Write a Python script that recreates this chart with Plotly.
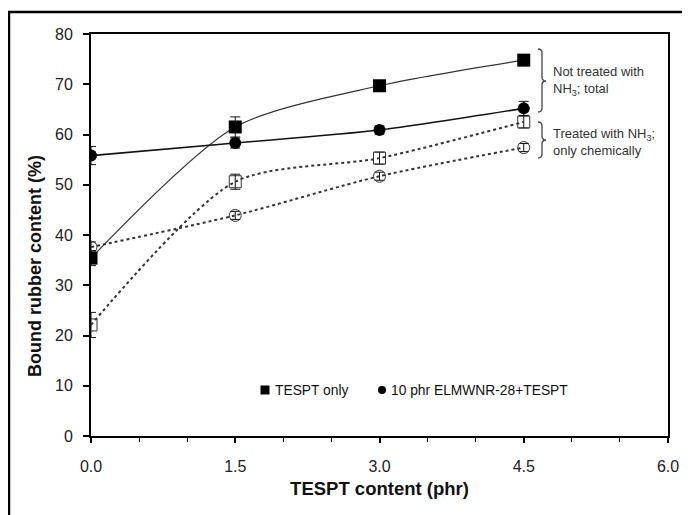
import plotly.graph_objects as go

# ---- data ----
tespt_x = [0.0, 1.5, 3.0, 4.5]
tespt_total = [35.4, 61.5, 69.7, 74.8]
tespt_total_err = [1.5, 2.0, 0.8, 0.8]
elm_total = [55.8, 58.3, 60.9, 65.2]
elm_total_err = [1.8, 1.0, 0.8, 1.4]
tespt_chem = [22.1, 50.6, 55.3, 62.5]
tespt_chem_err = [2.5, 1.5, 1.2, 1.2]
elm_chem = [37.6, 43.9, 51.7, 57.4]
elm_chem_err = [1.0, 0.8, 0.8, 0.8]

series_names = ["TESPT only", "10 phr ELMWNR-28+TESPT"]
x_ticks = [0.0, 1.5, 3.0, 4.5, 6.0]
x_tick_labels = ["0.0", "1.5", "3.0", "4.5", "6.0"]
y_ticks = [0, 10, 20, 30, 40, 50, 60, 70, 80]

FONT = "Arial, Liberation Sans, sans-serif"
SMOOTH = 0.75

fig = go.Figure()

def err(vals):
    return dict(type="data", array=vals, visible=True, color="#111", thickness=1, width=5)

# dotted (treated with NH3)
fig.add_trace(go.Scatter(x=tespt_x, y=tespt_chem, mode="lines+markers",
                         line=dict(color="#333", width=2, dash="dot", shape="spline", smoothing=SMOOTH),
                         marker=dict(symbol="square-open", size=12, color="#333", line=dict(width=1)),
                         error_y=err(tespt_chem_err), showlegend=False))
fig.add_trace(go.Scatter(x=tespt_x, y=elm_chem, mode="lines+markers",
                         line=dict(color="#333", width=2, dash="dot", shape="spline", smoothing=SMOOTH),
                         marker=dict(symbol="circle-open", size=12, color="#333", line=dict(width=1)),
                         error_y=err(elm_chem_err), showlegend=False))
# solid (total)
fig.add_trace(go.Scatter(x=tespt_x, y=tespt_total, mode="lines+markers", name=series_names[0],
                         line=dict(color="#333", width=1.2, shape="spline", smoothing=SMOOTH),
                         marker=dict(symbol="square", size=13, color="#000"),
                         error_y=err(tespt_total_err), showlegend=False))
fig.add_trace(go.Scatter(x=tespt_x, y=elm_total, mode="lines+markers", name=series_names[1],
                         line=dict(color="#111", width=1.6, shape="spline", smoothing=SMOOTH),
                         marker=dict(symbol="circle", size=12, color="#000"),
                         error_y=err(elm_total_err), showlegend=False))

# screen-pixel helpers (plot area: x 91..668, y 34..436 on screen)
def px2x(px):
    return (px - 91) / (577 / 6.0)

def py2y(py):
    return (436 - py) / (402 / 80.0)

def pxp(px):
    return (px - 91) / 577.0

def pyp(py):
    return (436 - py) / 402.0

def brace(px0, pxt, pytop, pytip, pybot):
    x0, xt = px2x(px0), px2x(pxt)
    xm = (x0 + xt) / 2
    yt, yc, yb = py2y(pytop), py2y(pytip), py2y(pybot)
    d = py2y(0) - py2y(4)
    return (f"M {x0},{yt} Q {xm},{yt} {xm},{yt-d} L {xm},{yc+d} Q {xm},{yc} {xt},{yc} "
            f"Q {xm},{yc} {xm},{yc-d} L {xm},{yb+d} Q {xm},{yb} {x0},{yb}")

shapes = [
    dict(type="path", xref="x", yref="y", path=brace(538, 546, 49, 81, 112),
         line=dict(color="#444", width=1.3)),
    dict(type="path", xref="x", yref="y", path=brace(538, 546, 122, 140, 158),
         line=dict(color="#444", width=1.3)),
    # outer frame
    dict(type="rect", xref="paper", yref="paper",
         x0=pxp(9), x1=pxp(720), y0=pyp(540), y1=pyp(12),
         line=dict(color="#000", width=2.5), layer="below"),
    # legend keys
    dict(type="rect", xref="paper", yref="paper",
         x0=pxp(260.5), x1=pxp(269.5), y0=pyp(394.5), y1=pyp(385.5),
         fillcolor="#000", line=dict(width=0)),
    dict(type="circle", xref="paper", yref="paper",
         x0=pxp(378), x1=pxp(386), y0=pyp(394), y1=pyp(386),
         fillcolor="#000", line=dict(width=0)),
]

ann_font = dict(family=FONT, size=13, color="#333")
annotations = [
    dict(x=px2x(551), y=py2y(81), xref="x", yref="y", xanchor="left", yanchor="middle", align="left",
         text="Not treated with<br>NH<sub>3</sub>; total", showarrow=False, font=ann_font),
    dict(x=px2x(551), y=py2y(142), xref="x", yref="y", xanchor="left", yanchor="middle", align="left",
         text="Treated with NH<sub>3</sub>;<br>only chemically", showarrow=False, font=ann_font),
    dict(x=pxp(273), y=pyp(390), xref="paper", yref="paper", xanchor="left", yanchor="middle",
         text=series_names[0], showarrow=False, font=dict(family=FONT, size=13.8, color="#111")),
    dict(x=pxp(389), y=pyp(390), xref="paper", yref="paper", xanchor="left", yanchor="middle",
         text=series_names[1], showarrow=False, font=dict(family=FONT, size=13.8, color="#111")),
    # y-axis title
    dict(x=pxp(35), y=pyp(266), xref="paper", yref="paper", xanchor="center", yanchor="middle",
         text="<b>Bound rubber content (%)</b>", textangle=-90, showarrow=False,
         font=dict(family=FONT, size=18, color="#111")),
]

fig.update_layout(
    width=682, height=507,
    margin=dict(l=83, r=22, t=26, b=79),
    paper_bgcolor="white", plot_bgcolor="white",
    font=dict(family=FONT, size=16, color="#222"),
    shapes=shapes, annotations=annotations,
    showlegend=False,
    xaxis=dict(range=[0, 6], tickvals=x_ticks, ticktext=x_tick_labels,
               showline=True, linecolor="#000", linewidth=2, mirror=True,
               ticks="outside", ticklen=5, tickcolor="#000", tickwidth=1.5,
               ticklabelstandoff=10,
               minor=dict(dtick=0.5, ticks="outside", ticklen=4, tickcolor="#000", tickwidth=1),
               showgrid=False, zeroline=False,
               tickfont=dict(family=FONT, size=16, color="#222"),
               title=dict(text="<b>TESPT content (phr)</b>", standoff=8,
                          font=dict(family=FONT, size=18.5, color="#111"))),
    yaxis=dict(range=[0, 80], tickvals=y_ticks,
               showline=True, linecolor="#000", linewidth=2, mirror=True,
               ticks="outside", ticklen=6, tickcolor="#000", tickwidth=1.5,
               ticklabelstandoff=7,
               showgrid=False, zeroline=False,
               tickfont=dict(family=FONT, size=16, color="#222")),
)

fig.write_html("out.html")
